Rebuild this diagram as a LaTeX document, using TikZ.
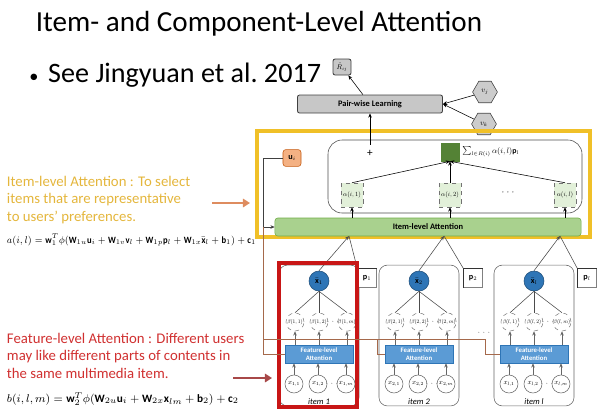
\documentclass[tikz,border=0pt]{standalone}
\usepackage{fontspec}
\usepackage{graphicx}
\setmainfont{Carlito}
\usetikzlibrary{positioning,shapes.geometric,arrows.meta}

\definecolor{gold}{RGB}{240,192,40}
\definecolor{goldtext}{RGB}{228,182,60}
\definecolor{arrorange}{RGB}{222,140,95}
\definecolor{redtext}{RGB}{208,48,48}
\definecolor{redframe}{RGB}{200,22,22}
\definecolor{redarrow}{RGB}{168,72,72}
\definecolor{brn}{RGB}{165,105,75}
\definecolor{lgreen}{RGB}{169,209,142}
\definecolor{mgreen}{RGB}{112,173,71}
\definecolor{dgreen}{RGB}{84,130,53}
\definecolor{pgreen}{RGB}{226,240,217}
\definecolor{uorange}{RGB}{244,177,131}
\definecolor{uborder}{RGB}{197,90,17}
\definecolor{dblue}{RGB}{46,117,182}
\definecolor{nblue}{RGB}{31,78,121}
\definecolor{lblue}{RGB}{91,155,213}

% small math labels, set at a normal size and shrunk
\newcommand{\mini}[2][0.45]{\scalebox{#1}{$#2$}}

\begin{document}
\begin{tikzpicture}[x=0.025cm,y=-0.025cm,>={Stealth[length=3pt,width=2.5pt]},
    graybox/.style={draw=black!75,fill=black!22,rounded corners=1.5pt,line width=0.6pt},
    hexnode/.style={regular polygon,regular polygon sides=6,draw=black!75,fill=black!20,
        minimum size=0.62cm,inner sep=0pt,font=\fontsize{9}{10}\selectfont},
    attbox/.style={draw=black!55,dashed,fill=pgreen,minimum width=0.55cm,minimum height=0.6cm,
        inner sep=0pt,font=\fontsize{9}{10}\selectfont},
    ubox/.style={draw=uborder,fill=uorange,rounded corners=2pt,minimum width=0.45cm,
        minimum height=0.42cm,inner sep=0pt,font=\fontsize{9}{10}\selectfont},
    pbox/.style={draw=black!50,fill=white,minimum size=0.475cm,inner sep=0pt,
        font=\fontsize{9}{10}\selectfont},
    itembox/.style={draw=black!60,rounded corners=6pt,minimum width=2cm,minimum height=3.52cm},
    xbarnode/.style={circle,draw=nblue,fill=dblue,minimum size=0.5cm,inner sep=0pt,
        font=\fontsize{9}{10}\selectfont},
    betanode/.style={circle,draw=black!50,dashed,fill=white,minimum size=0.45cm,inner sep=0pt,
        font=\fontsize{9}{10}\selectfont},
    xnode/.style={circle,draw=black!60,fill=white,minimum size=0.45cm,inner sep=0pt,
        font=\fontsize{9}{10}\selectfont},
    flabox/.style={draw=dblue,fill=lblue,minimum width=1.7cm,minimum height=0.45cm,inner sep=0pt,
        align=center,text=white,font=\fontsize{4.8}{5.4}\selectfont\bfseries},
    notetext/.style={anchor=north west,align=left,font=\fontsize{10.5}{12.4}\selectfont}]
  \useasboundingbox (0,0) rectangle (600,410);

  % heading
  \node (title) at (259,24) {\fontsize{20.7}{24}\selectfont Item- and Component-Level Attention};
  \node[anchor=west,inner sep=0pt] (cite) at (29,75)
      {\fontsize{20}{24}\selectfont{\fontsize{13}{14}\selectfont\textbullet}\hspace{7pt}See Jingyuan et al.\ 2017};

  % pair-wise learning
  \node[graybox,minimum width=0.45cm,minimum height=0.4cm,inner sep=0pt,
        font=\fontsize{9}{10}\selectfont] (rij) at (342,67) {\mini[0.55]{\hat{R}_{ij}}};
  \node[graybox,minimum width=3.625cm,minimum height=0.45cm,inner sep=0pt,
        font=\fontsize{6}{7}\selectfont\bfseries] (pair) at (370,104) {Pair-wise Learning};
  \node[hexnode] (vj) at (485,92) {\mini[0.6]{v_j}};
  \node[hexnode] (vk) at (484,124) {\mini[0.6]{v_k}};
  \draw[->] (pair) -- (rij);
  \draw[->] (vj) -- (pair.east);
  \draw[->] (vk) -- (pair.east);

  % item-level attention
  \draw[gold,line width=2.8pt] (257,131) rectangle (590,237);
  \draw[black!70,rounded corners=10pt] (328,140) rectangle (582,213);
  \node (plus) at (370,153) {\fontsize{8}{9}\selectfont +};
  \draw[->] (plus) -- (pair);
  \node[draw=dgreen,fill=dgreen,minimum size=0.45cm,inner sep=0pt] (agg) at (450,152) {};
  \node[anchor=west,inner sep=2pt,font=\fontsize{9}{10}\selectfont] (sum) at (agg.east)
      {\mini[0.62]{\sum_{l\in R(i)}\alpha(i,l)\mathbf{p}_l}};
  \node[attbox] (a1) at (352,195) {\mini[0.5]{\alpha(i,1)}};
  \node[attbox] (a2) at (450,195) {\mini[0.5]{\alpha(i,2)}};
  \node[attbox] (al) at (565,195) {\mini[0.5]{\alpha(i,l)}};
  \node[font=\fontsize{6}{7}\selectfont] (adots) at (508,192) {$\cdots$};
  \draw[->] (a1.north) -- (agg.south);
  \draw[->] (a2.north) -- (agg.south);
  \draw[->] (al.north) -- (agg.south);
  \node[draw=mgreen,fill=lgreen,rounded corners=2pt,minimum width=7.65cm,minimum height=0.45cm,
        inner sep=0pt,font=\fontsize{6}{7}\selectfont\bfseries] (ilbar) at (428,227) {Item-level Attention};
  \draw[->] (a1 |- ilbar.north) -- (a1);
  \draw[->] (a2 |- ilbar.north) -- (a2);
  \draw[->] (al |- ilbar.north) -- (al);
  \node[ubox] (u) at (292,158) {\mini[0.65]{\mathbf{u}_i}};
  \coordinate (fork) at (263,227);
  \draw[black!75] (u.west) -| (fork);
  \draw[->,black!75] (fork) -- (ilbar.west);

  % items
  \foreach \i/\cx/\px/\ax/\n in {1/319/367/349/1, 2/419/473/444/2, 3/534/587/560/l} {
    \node[itembox] (box\i) at (\cx,335.5) {};
    \coordinate (ap\i) at (\ax,236);
    \node[xbarnode] (xb\i) at (\cx,281) {\mini[0.65]{\bar{\mathbf{x}}_{\n}}};
    \node[pbox] (p\i) at (\px,278) {\mini[0.65]{\mathbf{p}_{\n}}};
    \draw[black!80,line width=0.8pt] (p\i.south west) -- (p\i.north west) -- (p\i.north east);
    \draw[->,black!70] (xb\i.north) -- (ap\i);
    \draw[black!70] (p\i.north west) -- (ap\i);
    \node[betanode] (b\i1) at (\cx-24,322) {\mini[0.42]{\beta(\n,1)}};
    \node[betanode] (b\i2) at (\cx,322) {\mini[0.42]{\beta(\n,2)}};
    \node[betanode] (b\i3) at (\cx+28,322) {\mini[0.42]{\beta(\n,m)}};
    \node[font=\fontsize{5}{6}\selectfont] (bd\i) at (\cx+14,322) {$\cdots$};
    \node[flabox] (fla\i) at (\cx,354) {Feature-level\\Attention};
    \node[xnode] (x\i1) at (\cx-25,384) {\mini[0.55]{x_{\n,1}}};
    \node[xnode] (x\i2) at (\cx-1,384) {\mini[0.55]{x_{\n,2}}};
    \node[xnode] (x\i3) at (\cx+27,384) {\mini[0.55]{x_{\n,m}}};
    \node[font=\fontsize{5}{6}\selectfont] (xd\i) at (\cx+13,384) {$\cdots$};
    \node[font=\fontsize{6}{7}\selectfont\itshape] (lab\i) at (\cx,402) {item \n};
    \foreach \k in {1,2,3} {
      \draw[black!70] (b\i\k.north) -- (xb\i.south);
      \draw[->,black!60] (b\i\k |- fla\i.north) -- (b\i\k);
      \draw[->,black!60] (x\i\k) -- (x\i\k |- fla\i.south);
    }
  }
  \draw[redframe,line width=2.2pt] (279,263) rectangle (357,407);

  % user vector into feature-level attention
  \coordinate (hl) at (263,339);
  \coordinate (h2) at (377,339);
  \coordinate (h3) at (485,339);
  \draw[brn] (fork) |- (fla1.west);
  \draw[brn] (hl) -- (h3);
  \draw[brn] (h2) |- (fla2.west);
  \draw[brn] (h3) |- (fla3.west);
  \node[font=\fontsize{5}{6}\selectfont] (hdots) at (484,333) {$\cdots$};

  % notes
  \node[notetext,text=goldtext] (ilnote) at (2,171)
      {Item-level Attention : To select\\items that are representative\\to users' preferences.};
  \coordinate (ila) at (250,203);
  \draw[arrorange,line width=1.6pt,-{Triangle[length=5pt,width=6pt]}] (212,203) -- (ila);
  \node[anchor=west,font=\fontsize{6.8}{8}\selectfont] (aeq) at (2,240)
      {\scalebox{0.9}[1]{$a(i,l)=\mathbf{w}_1^T\phi(\mathbf{W}_{1u}\mathbf{u}_i+\mathbf{W}_{1v}\mathbf{v}_l
       +\mathbf{W}_{1p}\mathbf{p}_l+\mathbf{W}_{1x}\bar{\mathbf{x}}_l+\mathbf{b}_1)+\mathbf{c}_1$}};
  \node[notetext,text=redtext] (flnote) at (2,328)
      {Feature-level Attention : Different users\\may like different parts of contents in\\the same multimedia item.};
  \coordinate (fla) at (272,378);
  \draw[redarrow,line width=1.6pt,-{Triangle[length=5pt,width=6pt]}] (233,378) -- (fla);
  \node[anchor=west,font=\fontsize{8}{9}\selectfont] (beq) at (2,399)
      {$b(i,l,m)=\mathbf{w}_2^T\phi(\mathbf{W}_{2u}\mathbf{u}_i+\mathbf{W}_{2x}\mathbf{x}_{lm}+\mathbf{b}_2)+\mathbf{c}_2$};
\end{tikzpicture}
\end{document}
